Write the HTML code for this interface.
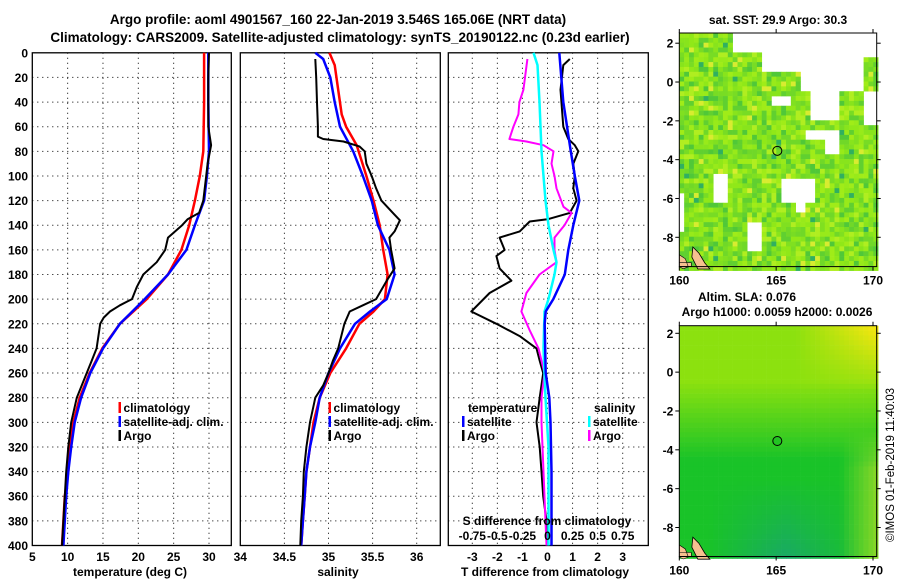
<!DOCTYPE html>
<html><head><meta charset="utf-8"><style>
html,body{margin:0;padding:0;background:#fff;}
svg{display:block;}
text{font-family:"Liberation Sans",Arial,sans-serif;font-weight:bold;fill:#000;}
</style></head><body>
<svg id="fig" width="900" height="580" viewBox="0 0 900 580" xmlns="http://www.w3.org/2000/svg">
<text x="338" y="24" font-size="13.5" text-anchor="middle">Argo profile: aoml 4901567_160 22-Jan-2019 3.546S 165.06E (NRT data)</text>
<text x="340" y="42" font-size="13.5" text-anchor="middle">Climatology: CARS2009. Satellite-adjusted climatology: synTS_20190122.nc (0.23d earlier)</text>
<text x="778" y="24" font-size="12" text-anchor="middle">sat. SST: 29.9 Argo: 30.3</text>
<text x="747" y="301" font-size="12" text-anchor="middle">Altim. SLA: 0.076</text>
<text x="777" y="316" font-size="12" text-anchor="middle">Argo h1000: 0.0059 h2000: 0.0026</text>
<text transform="translate(894,465) rotate(-90)" font-size="11.5" style="font-weight:normal" text-anchor="middle">©IMOS 01-Feb-2019 11:40:03</text>
<g id="g"></g>
</svg>
<script>
// ---- data ----
const tDepth = [0,40,80,100,120,140,160,180,200,220,240,260,280,300,320,340,360,380,400];
const tClim  = [29.3,29.3,29.2,28.7,28.0,27.2,26.1,24.2,21.2,17.4,14.9,13.1,11.7,10.8,10.3,10.1,9.6,9.4,9.2];
const tSat   = [29.9,29.9,30.0,29.7,29.3,28.0,26.8,24.2,20.9,17.4,15.0,13.2,11.9,11.0,10.5,10.1,9.8,9.6,9.4];
const aDepth = [0,20,60,75,90,100,120,130,135,140,150,160,170,180,190,200,205,210,215,220,240,250,260,280,300,320,340,360,380,400];
const tArgo  = [30.0,29.9,29.9,30.3,29.8,29.6,29.2,28.6,27.0,26.2,24.2,23.8,22.6,20.7,19.8,19.1,17.4,16.0,15.1,14.6,14.1,13.4,12.7,11.3,10.5,10.1,9.8,9.6,9.4,9.2];
const sDepth = [0,10,30,50,60,75,100,120,140,160,180,200,210,220,240,260,280,300,320,340,360,380,400];
const sClim  = [35.01,35.07,35.11,35.15,35.20,35.32,35.43,35.51,35.58,35.62,35.67,35.64,35.51,35.35,35.20,35.02,34.90,34.83,34.79,34.75,34.73,34.71,34.69];
const sSatDepth = [0,5,20,40,60,80,100,120,140,160,180,200,210,220,240,260,280,300,320,340,360,380,400];
const sSat   = [34.85,34.94,35.02,35.07,35.13,35.28,35.39,35.49,35.56,35.69,35.75,35.66,35.47,35.30,35.13,35.00,34.90,34.85,34.79,34.75,34.73,34.71,34.69];
const sArgoDepth = [5,20,40,60,68,70,72,76,80,90,100,110,120,130,136,145,150,160,175,185,200,205,210,220,240,250,260,270,280,300,320,340,360,380,400];
const sArgo  = [34.85,34.86,34.87,34.88,34.88,34.94,35.17,35.35,35.41,35.43,35.49,35.54,35.60,35.73,35.81,35.75,35.69,35.71,35.75,35.66,35.54,35.39,35.24,35.18,35.11,35.05,35.00,34.94,34.85,34.79,34.75,34.72,34.71,34.69,34.68];
const dTSatDepth = [0,40,80,100,120,140,160,180,200,210,220,260,280,300,340,400];
const dTSat  = [0.47,0.63,0.93,1.09,1.27,1.03,0.83,0.69,0.23,-0.07,-0.11,-0.07,0.07,0.12,0.16,0.16];
const dTArgoDepth = [5,10,30,60,70,75,80,90,100,110,120,130,135,137,145,150,160,165,175,185,195,210,220,230,240,250,260,280,300,320,340,360,380,400];
const dTArgo = [0.89,0.63,0.52,0.63,0.83,1.09,1.23,1.03,1.09,1.03,1.16,0.89,0.03,-0.71,-1.11,-1.91,-1.71,-2.04,-1.91,-1.44,-2.31,-3.04,-2.04,-1.11,-0.44,-0.31,-0.17,-0.31,-0.44,-0.31,-0.24,-0.17,-0.04,-0.04];
const dSSatDepth = [0,10,40,80,100,120,140,160,170,180,200,210,240,280,320,360,400];
const dSSat  = [-0.14,-0.10,-0.08,-0.06,-0.04,-0.02,0.01,0.06,0.09,0.07,0.01,-0.03,-0.04,-0.02,0.01,0.01,0.01];
const dSArgoDepth = [5,30,40,50,60,70,72,75,80,90,100,110,125,130,140,150,160,170,180,195,210,225,240,260,280,300,340,380,400];
const dSArgo = [-0.20,-0.24,-0.28,-0.29,-0.34,-0.38,-0.21,-0.04,0.06,0.04,0.07,0.09,0.16,0.24,0.17,0.07,0.07,0.09,-0.08,-0.21,-0.26,-0.18,-0.09,-0.03,-0.06,-0.06,-0.04,-0.02,-0.01];
const depthTicks = [0,20,40,60,80,100,120,140,160,180,200,220,240,260,280,300,320,340,360,380,400];
const tTicks = [5,10,15,20,25,30];
const sTicks = [34,34.5,35,35.5,36];
const dTTicks = [-3,-2,-1,0,1,2,3];
const dSTickLabels = ['-0.75','-0.5','-0.25','0','0.25','0.5','0.75'];
const lonTicks = [160,165,170];
const latTicks = [2,0,-2,-4,-6,-8];
const argoLon = 165.06, argoLat = -3.546;

const NS='http://www.w3.org/2000/svg';
const G=document.getElementById('g');
function el(tag,attrs,parent,txt){const e=document.createElementNS(NS,tag);for(const k in attrs)e.setAttribute(k,attrs[k]);if(txt!==undefined)e.textContent=txt;(parent||G).appendChild(e);return e;}

const Y0=52.8,Y1=545.5;
const yD=d=>Y0+(Y1-Y0)*d/400;
function lin(d0,d1,p0,p1){return v=>p0+(v-d0)*(p1-p0)/(d1-d0);}
const xT=lin(5,30,32.3,209);
const xS=lin(34,36,240.3,416.7);
const xDT=lin(-3,3,472.3,622.7);
const xDS=v=>xDT(v*4);

function panel(name,x0,x1){
  const g=el('g',{});
  
  
  el('rect',{x:x0,y:Y0,width:x1-x0,height:Y1-Y0,fill:'#fff',stroke:'#000','stroke-width':1.3},g);
  depthTicks.forEach(d=>{if(d>0&&d<400){const l=el('line',{x1:x0,x2:x1,y1:yD(d),y2:yD(d),stroke:'#000','stroke-width':1,'stroke-dasharray':'1 4'},g);
  }});
  return g;
}
function vgrid(g,ticks,sx){ticks.forEach(t=>{const l=el('line',{x1:sx(t),x2:sx(t),y1:Y0,y2:Y1,stroke:'#000','stroke-width':1,'stroke-dasharray':'1 4'},g);
  });}
function line(g,name,vals,depths,sx,color,w){
  const pts=vals.map((v,i)=>sx(v).toFixed(1)+','+yD(depths[i]).toFixed(1)).join(' ');
  const p=el('polyline',{points:pts,fill:'none',stroke:color,'stroke-width':w,'stroke-linejoin':'round'},g);
  
  
}
function legend(g,x,y,items){items.forEach((it,i)=>{
  const r=el('rect',{x:x,y:y+i*14-10,width:2.5,height:11,fill:it[1]},g);
  
  const t=el('text',{x:x+5,y:y+i*14,'font-size':12},g,it[0]);
  
});}

// Panel 1
const p1=panel('temperature-panel',32.3,231.3);
vgrid(p1,[10,15,20,25,30],xT);
line(p1,'temp-climatology-line',tClim,tDepth,xT,'#ff0000',2.5);
line(p1,'temp-satellite-line',tSat,tDepth,xT,'#0000ff',2.5);
line(p1,'temp-argo-line',tArgo,aDepth,xT,'#000',2);
depthTicks.forEach(d=>{const t=el('text',{x:28,y:yD(d)+4.5,'font-size':12,'text-anchor':'end'},p1,String(d));});
tTicks.forEach(v=>{const t=el('text',{x:xT(v),y:561,'font-size':12,'text-anchor':'middle'},p1,String(v));});
{const t=el('text',{x:130,y:576,'font-size':12,'text-anchor':'middle'},p1,'temperature (deg C)');}
legend(p1,118.5,412,[['climatology','#ff0000'],['satellite-adj. clim.','#0000ff'],['Argo','#000']]);

// Panel 2
const p2=panel('salinity-panel',240.3,440.3);
vgrid(p2,[34.5,35,35.5,36],xS);
line(p2,'sal-climatology-line',sClim,sDepth,xS,'#ff0000',2.5);
line(p2,'sal-satellite-line',sSat,sSatDepth,xS,'#0000ff',2.5);
line(p2,'sal-argo-line',sArgo,sArgoDepth,xS,'#000',2);
sTicks.forEach(v=>{const t=el('text',{x:xS(v),y:561,'font-size':12,'text-anchor':'middle'},p2,String(v));});
{const t=el('text',{x:338,y:576,'font-size':12,'text-anchor':'middle'},p2,'salinity');}
legend(p2,328.5,412,[['climatology','#ff0000'],['satellite-adj. clim.','#0000ff'],['Argo','#000']]);

// Panel 3
const p3=panel('difference-panel',448.3,648.3);
vgrid(p3,dTTicks,xDT);
line(p3,'dT-argo-line',dTArgo,dTArgoDepth,xDT,'#000',2);
line(p3,'dS-argo-line',dSArgo,dSArgoDepth,xDS,'#ff00ff',2);
line(p3,'dS-satellite-line',dSSat,dSSatDepth,xDS,'#00ffff',2.5);
line(p3,'dT-satellite-line',dTSat,dTSatDepth,xDT,'#0000ff',2.5);
dTTicks.forEach(v=>{const t=el('text',{x:xDT(v),y:561,'font-size':12,'text-anchor':'middle'},p3,String(v));});
{const t=el('text',{x:545,y:576,'font-size':12,'text-anchor':'middle'},p3,'T difference from climatology');}
{const t=el('text',{x:547,y:525,'font-size':12,'text-anchor':'middle'},p3,'S difference from climatology');}
dSTickLabels.forEach((s,i)=>{const t=el('text',{x:xDT(-3+i),y:540,'font-size':12,'text-anchor':'middle'},p3,s);});
{const t=el('text',{x:468,y:412,'font-size':12},p3,'temperature');}
{const t=el('text',{x:594,y:412,'font-size':12},p3,'salinity');}
legend(p3,462,426,[['satellite','#0000ff'],['Argo','#000']]);
legend(p3,588,426,[['satellite','#00ffff'],['Argo','#ff00ff']]);

// Maps
function hash(i,j,s){let h=(i*374761393+j*668265263+s*97)|0;h=(h^(h>>>13))*1274126177|0;h=h^(h>>>16);return ((h>>>0)%1000)/1000;}
function map(name,top,bot,y2,ym8,kind){
  const x0=679.3,x1=876.7;
  const xL=lin(160,170,679.3,873), yL=lin(2,-8,y2,ym8);
  const g=el('g',{});
  const cw=4.85,ch=4.85;const nx=Math.ceil((x1-x0)/cw),ny=Math.ceil((bot-top)/ch);
  const whites=[[162.8,165.9,2.6,1.5],[164.2,166.2,1.5,0.6],[165.3,170.3,2.6,1.3],[166.2,169.4,1.3,-0.4],[166.8,168.2,-0.4,-1.9],[169.4,170.3,-0.4,-2.2],[164.8,165.8,-0.6,-1.3],[161.8,162.6,-4.6,-6.1],[163.5,164.2,-7.1,-8.6],[165.2,166.9,-4.9,-6.1],[166,166.6,-6.1,-6.7],[160,160.3,-5.8,-7.8],[166.5,168.2,-2.4,-2.9],[167.6,168.2,-2.9,-3.6]];
  for(let i=0;i<nx;i++)for(let j=0;j<ny;j++){
    const x=x0+i*cw,y=top+j*ch;
    const lon=160+(x+cw/2-679.3)*10/(873-679.3), lat=2-(y+ch/2-y2)*10/(ym8-y2);
    let c;
    if(kind==='sst'){
      let w=false;whites.forEach(b=>{if(lon>=b[0]&&lon<=b[1]&&lat<=b[2]&&lat>=b[3])w=true;});
      if(w)continue;
      const r=hash(i,j,1);
      const pal=['#80e020','#90e818','#70d828','#a0ec18','#88e41c','#60d030','#98ea1a','#b0ee20','#78dc24','#50c838'];
      c=pal[Math.floor(r*pal.length)];
      if(r>0.97)c='#d8ec30';
      if(r<0.015)c='#30b060';
    }else{
      // smooth SLA field: lime in north, green in south, yellow top-right
      let t=Math.min(1,Math.max(0,(lat+4.5)/4));        // 0 south .. 1 north
      let rr=25+t*115, gg=195+t*30, bb=40-t*25;
      const yel=Math.max(0,(lon-166)/4)*Math.max(0,(lat+1)/3.5);
      rr+=yel*110; gg+=yel*5;
      const se=Math.max(0,(lon-168.3)/1.9)*Math.max(0,Math.min(1,(-lat-3)/2));
      rr+=se*110; gg+=se*20;
      const blu=Math.max(0,1-Math.abs(lon-165.5)/4)*Math.max(0,(-lat-5.5)/4);
      bb+=blu*60; gg-=blu*25;
      c='rgb('+Math.round(Math.min(240,rr))+','+Math.round(Math.min(232,gg))+','+Math.round(Math.max(0,bb))+')';
    }
    el('rect',{x:x.toFixed(2),y:y.toFixed(2),width:cw+0.3,height:ch+0.3,fill:c},g);
  }
  el('path',{d:`M${xL(160.7)},${yL(-8.5)} l6,6 l6,10 l5,6 l-12,0 l-6,-12 z`,fill:'#f5c090',stroke:'#000','stroke-width':0.8},g);
  el('path',{d:`M${x0},${yL(-8.9)} l6,4 l3,8 l-5,2 l-4,-2 z M${x0},${bot-4} l12,0 l0,4 l-12,0 z`,fill:'#f5c090',stroke:'#000','stroke-width':0.6},g);
  el('rect',{x:x0,y:top,width:x1-x0,height:bot-top,fill:'none',stroke:'#000','stroke-width':1},g);
  lonTicks.forEach(v=>{el('line',{x1:xL(v),x2:xL(v),y1:top,y2:top-4,stroke:'#000'},g);el('line',{x1:xL(v),x2:xL(v),y1:bot,y2:bot+4,stroke:'#000'},g);
    const t=el('text',{x:xL(v),y:bot+18,'font-size':12,'text-anchor':'middle'},g,String(v));});
  latTicks.forEach(v=>{el('line',{x1:x0,x2:x0-4,y1:yL(v),y2:yL(v),stroke:'#000'},g);el('line',{x1:x1,x2:x1+4,y1:yL(v),y2:yL(v),stroke:'#000'},g);
    const t=el('text',{x:x0-6,y:yL(v)+4.5,'font-size':12,'text-anchor':'end'},g,String(v));});
  const m=el('circle',{cx:xL(argoLon),cy:yL(argoLat),r:4.5,fill:kind==='sst'?'none':'#22c422',stroke:'#000','stroke-width':1},g);
  
}
map('sst-map',33,266.6,43.2,237.3,'sst');
map('sla-map',325.7,556.5,333.3,527.5,'sla');
</script>
</body></html>
